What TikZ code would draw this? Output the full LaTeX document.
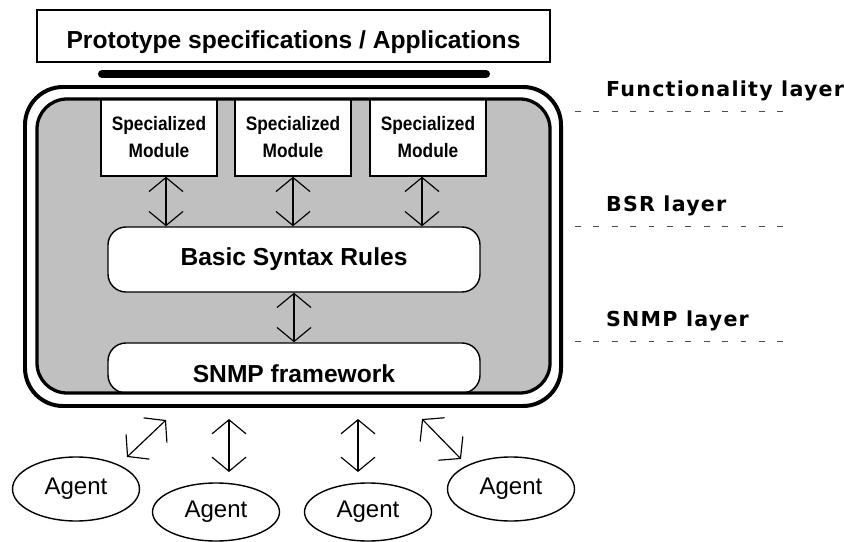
\documentclass[tikz,border=0pt]{standalone}
\usepackage{fontspec}
\setmainfont{Liberation Sans}
\newfontfamily\narrowfont[FakeStretch=0.89]{Liberation Sans}
\newfontfamily\layerfont[LetterSpace=6]{DejaVu Sans}
\usetikzlibrary{arrows.meta,shapes.geometric}
\definecolor{framegray}{RGB}{192,192,192}
\tikzset{
  dbl/.style={<->, >={Straight Barb[length=12pt,width=29pt]}, line width=1pt},
  modbox/.style={draw, line width=1.3pt, fill=white, minimum width=3.48cm, minimum height=2.31cm,
    align=center, font=\narrowfont\bfseries\fontsize{16.6}{23}\selectfont},
  rulebox/.style={draw, line width=1.2pt, fill=white, rounded corners=0.54cm, minimum width=11.16cm,
    font=\bfseries\fontsize{21}{25}\selectfont},
  agent/.style={draw, ellipse, line width=1.2pt, minimum width=3.81cm, font=\fontsize{20.5}{24}\selectfont},
  layer/.style={anchor=base west, font=\layerfont\bfseries\fontsize{17.6}{21}\selectfont},
  sep/.style={dash pattern=on 5pt off 10.7pt, line width=0.8pt, black!70}
}
\begin{document}
\begin{tikzpicture}[x=0.03cm,y=-0.03cm]
  \useasboundingbox (0,0) rectangle (844,542);
  \node[draw, line width=1.4pt, minimum width=15.39cm, minimum height=1.56cm, text height=0.96cm, text depth=0.18cm,
    font=\bfseries\fontsize{21}{25}\selectfont] (proto) at (293.5,36) {Prototype specifications / Applications};
  \draw[line width=6.8pt, line cap=round] (102,74) -- (486,74);
  % manager frame
  \draw[line width=3.4pt, rounded corners=1.14cm] (25,87) rectangle (561,406);
  \fill[framegray, rounded corners=0.9cm] (37,99) rectangle (550,393);
  \foreach \x [count=\i] in {159,293,428}
    \node[modbox] (mod\i) at (\x,137.5) {Specialized\\Module};
  \node[rulebox, minimum height=1.95cm] (bsr) at (294,259.5) {Basic Syntax Rules};
  \node[rulebox, minimum height=1.5cm, text height=1.02cm, text depth=0.18cm] (snmp) at (294,368) {SNMP framework};
  \draw[line width=2.8pt, rounded corners=0.9cm] (37,99) rectangle (550,393);
  \foreach \i/\dx in {1/7,2/0,3/-6}
    \draw[dbl] ([xshift=\dx*0.03cm]mod\i.south) -- ([xshift=\dx*0.03cm]mod\i.south |- bsr.north);
  \draw[dbl] (bsr) -- (snmp);
  % agents
  \node[agent, minimum height=1.92cm] (ag1) at (76,489) {Agent};
  \node[agent, minimum height=1.74cm] (ag2) at (216,512) {Agent};
  \node[agent, minimum height=1.74cm] (ag3) at (368,512) {Agent};
  \node[agent, minimum height=1.92cm] (ag4) at (511,489) {Agent};
  \foreach \x/\y [count=\i] in {166/420,229/419,358/419,422/419}
    \coordinate (up\i) at (\x,\y);
  \foreach \i/\dx/\dy in {1/51/-32,2/13/-40,3/-10/-40,4/-50/-30}
    \draw[dbl] ([shift={(\dx,\dy)}]ag\i.center) -- (up\i);
  % layers
  \foreach \y/\name [count=\i] in {97/Functionality layer,212/BSR layer,327/SNMP layer}{
    \node[layer] (lay\i) at (602,\y) {\name};
    \draw[sep] (575,\y+14) -- (795,\y+14);
  }
\end{tikzpicture}
\end{document}
